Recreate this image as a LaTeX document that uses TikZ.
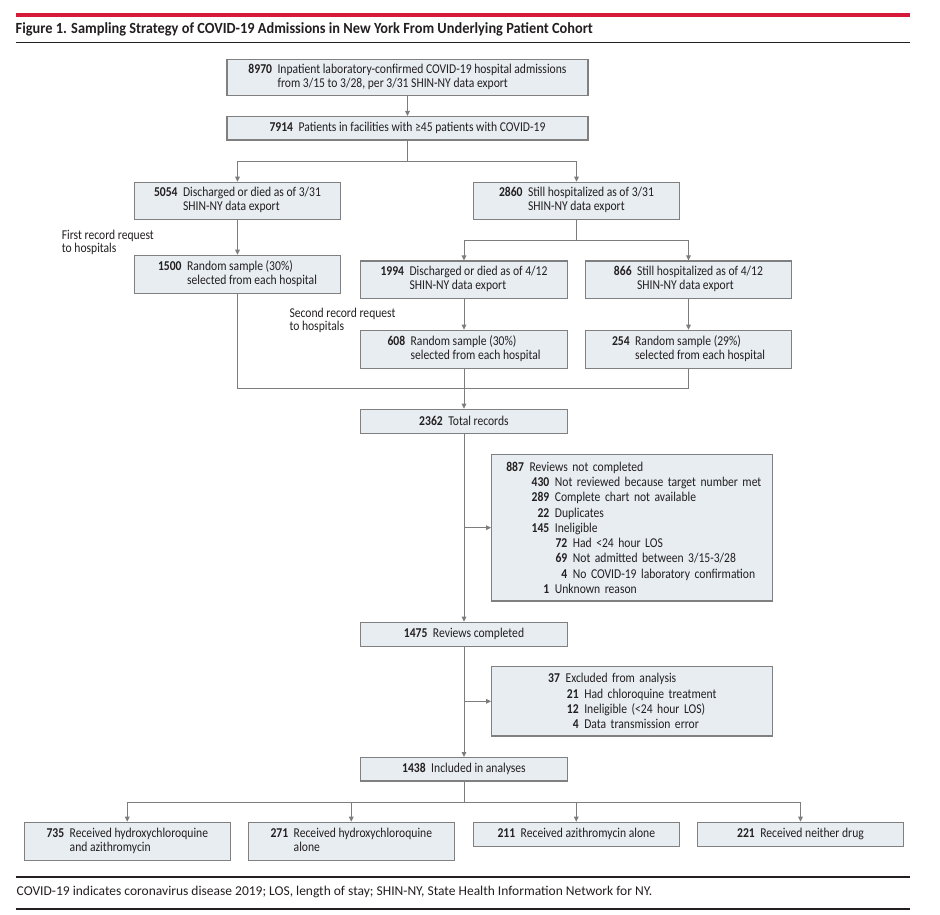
\documentclass[tikz,border=0pt]{standalone}
\usepackage{fontspec}
\setmainfont{Carlito}[FakeStretch=0.86]
\newfontfamily\titlefont{Carlito}[FakeStretch=0.927]
\newfontfamily\footfont{Carlito}
\usetikzlibrary{arrows.meta}
\definecolor{jred}{RGB}{214,26,58}
\definecolor{boxfill}{RGB}{231,237,241}
\definecolor{boxline}{RGB}{128,128,128}
\definecolor{linegray}{RGB}{125,125,125}
\definecolor{txt}{RGB}{35,31,32}
\newcommand\tlbox[3]{\textbf{#1}\hspace{5.5pt}\begin{tabular}[t]{@{}l@{}}#2\\#3\end{tabular}}
\newcommand\olbox[2]{\textbf{#1}\hspace{5.5pt}#2}
\newcommand\lvl[3]{\makebox[#1pt][r]{\textbf{#2}}\hspace{5.6pt}#3}
\begin{document}
\begin{tikzpicture}[x=1pt,y=-1pt,
  box/.style={draw=boxline, fill=boxfill, line width=1.2pt, inner sep=0pt, align=center, text=txt, font=\fontsize{13.5}{14}\selectfont},
  exbox/.style={box, align=left, font=\fontsize{13.5}{15.3}\selectfont},
  conn/.style={draw=linegray, line width=1pt},
  arr/.style={conn, -{Triangle[length=5pt,width=4.6pt]}},
  plain/.style={inner sep=0pt, text=txt, font=\fontsize{13.5}{13.5}\selectfont, align=left}]
\useasboundingbox (0,0) rectangle (940,914);
% header
\draw[jred, line width=3.5pt] (15.5,15) -- (910,15);
\node[anchor=base west, inner sep=0pt, text=txt, font={\titlefont\bfseries\fontsize{15.5}{18}\selectfont}] (title) at (15.5,33.3) {Figure 1. Sampling Strategy of COVID-19 Admissions in New York From Underlying Patient Cohort};
\draw[txt, line width=1.2pt] (15.5,42.3) -- (910,42.3);
% boxes
\node[box, minimum width=361, minimum height=36] (b1) at (407.5,77.5) {\tlbox{8970}{Inpatient laboratory-confirmed COVID-19 hospital admissions}{from 3/15 to 3/28, per 3/31 SHIN-NY data export}};
\node[box, minimum width=361, minimum height=23.5] (b2) at (407.5,128.3) {\olbox{7914}{Patients in facilities with ≥45 patients with COVID-19}};
\node[box, minimum width=206.4, minimum height=37] (b3) at (237.5,200.8) {\tlbox{5054}{Discharged or died as of 3/31}{SHIN-NY data export}};
\node[box, minimum width=206.4, minimum height=37] (b4) at (576.5,200.8) {\tlbox{2860}{Still hospitalized as of 3/31}{SHIN-NY data export}};
\node[box, minimum width=206.4, minimum height=38] (b5) at (237.5,274.3) {\tlbox{1500}{Random sample (30\%)}{selected from each hospital}};
\node[box, minimum width=207.4, minimum height=37.3] (b6) at (464,279.7) {\tlbox{1994}{Discharged or died as of 4/12}{SHIN-NY data export}};
\node[box, minimum width=206.4, minimum height=37.3] (b7) at (688.5,279.7) {\tlbox{866}{Still hospitalized as of 4/12}{SHIN-NY data export}};
\node[box, minimum width=207.4, minimum height=38] (b8) at (464,349.3) {\tlbox{608}{Random sample (30\%)}{selected from each hospital}};
\node[box, minimum width=206.4, minimum height=38] (b9) at (688.5,349.3) {\tlbox{254}{Random sample (29\%)}{selected from each hospital}};
\node[box, minimum width=207.4, minimum height=24] (b10) at (464,421.3) {\olbox{2362}{Total records}};
\node[exbox, minimum width=281, minimum height=146.7, text width=281pt] (e1) at (632.2,527.7) {%
\lvl{32.3}{887}{Reviews not completed}\\
\lvl{57.6}{430}{Not reviewed because target number met}\\
\lvl{57.6}{289}{Complete chart not available}\\
\lvl{57.6}{22}{Duplicates}\\
\lvl{57.6}{145}{Ineligible}\\
\lvl{75.6}{72}{Had <24 hour LOS}\\
\lvl{75.6}{69}{Not admitted between 3/15-3/28}\\
\lvl{75.6}{4}{No COVID-19 laboratory confirmation}\\
\lvl{57.6}{1}{Unknown reason}};
\node[box, minimum width=207.4, minimum height=24] (b11) at (464,634.3) {\olbox{1475}{Reviews completed}};
\node[exbox, minimum width=281, minimum height=69.3, text width=281pt] (e2) at (632.2,701.3) {%
\lvl{68.3}{37}{Excluded from analysis}\\
\lvl{87}{21}{Had chloroquine treatment}\\
\lvl{87}{12}{Ineligible (<24 hour LOS)}\\
\lvl{87}{4}{Data transmission error}};
\node[box, minimum width=207.4, minimum height=23.3] (b12) at (464,769.3) {\olbox{1438}{Included in analyses}};
\node[box, minimum width=206, minimum height=38] (ba) at (127.3,841.3) {\tlbox{735}{Received hydroxychloroquine}{and azithromycin}};
\node[box, minimum width=206, minimum height=38] (bb) at (351.3,841.3) {\tlbox{271}{Received hydroxychloroquine}{alone}};
\node[box, minimum width=206, minimum height=24] (bc) at (576.3,834.3) {\olbox{211}{Received azithromycin alone}};
\node[box, minimum width=206.4, minimum height=24] (bd) at (800.5,834.3) {\olbox{221}{Received neither drug}};
% labels
\node[plain, anchor=west] (lab1) at (61.7,242.6) {First record request\\to hospitals};
\node[plain, anchor=west] (lab2) at (289.3,320.5) {Second record request\\to hospitals};
% connectors
\coordinate (f1) at (407.5,161);
\coordinate (f2) at (576.5,240);
\coordinate (m1) at (688.5,388.3);
\coordinate (f3) at (464,802.7);
\draw[arr] (b1) -- (b2);
\draw[conn] (b2.south) -- (f1);
\draw[arr] (f1) -| (b3.north);
\draw[arr] (f1) -| (b4.north);
\draw[arr] (b3) -- (b5);
\draw[conn] (b4.south) -- (f2);
\draw[arr] (f2) -| (b6.north);
\draw[arr] (f2) -| (b7.north);
\draw[arr] (b6) -- (b8);
\draw[arr] (b7) -- (b9);
\draw[conn] (b5.south) |- (m1) -- (b9.south);
\draw[arr] (b8) -- (b10);
\draw[arr] (b10) -- (b11);
\draw[arr] (b10.south |- e1.west) -- (e1.west);
\draw[arr] (b11) -- (b12);
\draw[arr] (b11.south |- e2.west) -- (e2.west);
\draw[conn] (b12.south) -- (f3);
\draw[arr] (f3) -| (ba.north);
\draw[arr] (f3) -| (bb.north);
\draw[arr] (f3) -| (bc.north);
\draw[arr] (f3) -| (bd.north);
% footer
\draw[txt, line width=1.2pt] (15.5,877) -- (909.5,877);
\node[plain, anchor=west, font={\footfont\fontsize{13.5}{14}\selectfont}] (foot) at (16.5,892.3) {COVID-19 indicates coronavirus disease 2019; LOS, length of stay; SHIN-NY, State Health Information Network for NY.};
\draw[txt, line width=1.2pt] (15.5,909) -- (909.5,909);
\end{tikzpicture}
\end{document}
